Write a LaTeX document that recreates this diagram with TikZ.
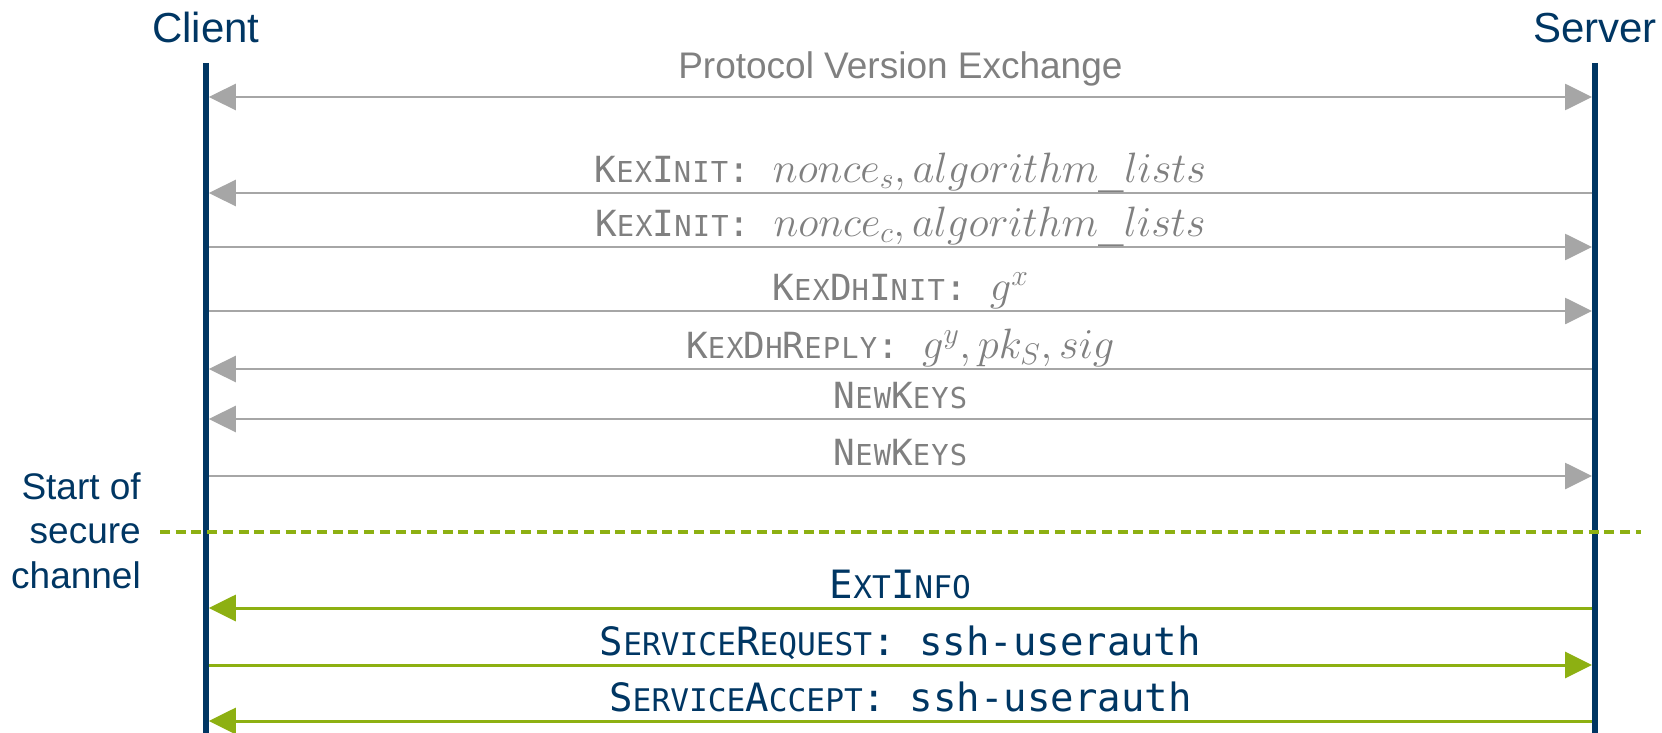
\RequirePackage{fix-cm}
\documentclass[tikz,border=0pt]{standalone}
\usepackage{fontspec}
\newfontfamily\sansfont{Liberation Sans}
\newfontfamily\monofont[LetterSpace=4]{DejaVu Sans Mono}
\newfontfamily\monotight{DejaVu Sans Mono}
\usetikzlibrary{arrows.meta}

\definecolor{navy}{RGB}{0,54,99}
\definecolor{linegray}{RGB}{166,166,166}
\definecolor{textgray}{RGB}{128,128,128}
\definecolor{lime}{RGB}{141,176,18}

% fake small capitals: upper-case letters at 4/5 of the current size
\makeatletter
\newcommand\smcp[1]{{\fontsize{\strip@pt\dimexpr\f@size pt*4/5\relax}{0pt}\selectfont\uppercase{#1}}}
\makeatother
\newcommand\mathpart[1]{{\fontsize{42.5}{42.5}\selectfont$#1$}}

\tikzset{
  actor/.style={anchor=base, inner sep=0pt, text=navy,
    font=\sansfont\fontsize{42}{42}\selectfont},
  lifeline/.style={draw=navy, line width=5.5pt},
  tipend/.style={-{Triangle[length=27pt,width=26pt]}},
  tipboth/.style={{Triangle[length=27pt,width=26pt]}-{Triangle[length=27pt,width=26pt]}},
  graymsg/.style={draw=linegray, line width=2.7pt},
  greenmsg/.style={draw=lime, line width=3pt},
  graylbl/.style={anchor=base, yshift=10.5pt, inner sep=0pt, text=textgray,
    font=\monofont\fontsize{36}{36}\selectfont},
  navylbl/.style={anchor=base, yshift=10pt, inner sep=0pt, text=navy,
    font=\monotight\fontsize{39}{39}\selectfont},
  sanslbl/.style={anchor=base, yshift=18pt, inner sep=0pt, text=textgray,
    font=\sansfont\fontsize{37}{37}\selectfont},
  boundary/.style={draw=lime, line width=4pt, dash pattern=on 10pt off 5.7pt},
  note/.style={align=right, anchor=base east, inner sep=0pt, text=navy,
    font=\sansfont\fontsize{37}{44.5}\selectfont},
}

\begin{document}
\begin{tikzpicture}[x=1pt,y=-1pt]
\useasboundingbox (0,0) rectangle (1662,733);

% participants and their lifelines
\node[actor] (client) at (206,43) {Client};
\node[actor] (server) at (1595,43) {Server};
\coordinate (ctop) at (206,63);
\coordinate (cbot) at (206,733);
\coordinate (stop) at (1595,63);
\coordinate (sbot) at (1595,733);
\draw[lifeline] (ctop) -- (cbot);
\draw[lifeline] (stop) -- (sbot);

% message end points on the lifeline edges
\foreach \n/\y in {1/97,2/193,3/247,4/311,5/369,6/419,7/476,8/608,9/665,10/721}{
  \coordinate (c\n) at (208.8,\y);
  \coordinate (s\n) at (1592,\y);
}

% unencrypted handshake
\draw[graymsg, tipboth] (c1) -- (s1)
  node[midway, sanslbl] {Protocol Version Exchange};
\draw[graymsg, tipend] (s2) -- (c2)
  node[midway, graylbl] {K\smcp{ex}I\smcp{nit}:\ \mathpart{nonce_s, algorithm\_lists}};
\draw[graymsg, tipend] (c3) -- (s3)
  node[midway, graylbl] {K\smcp{ex}I\smcp{nit}:\ \mathpart{nonce_c, algorithm\_lists}};
\draw[graymsg, tipend] (c4) -- (s4)
  node[midway, graylbl] {K\smcp{ex}D\smcp{h}I\smcp{nit}:\ \mathpart{g^x}};
\draw[graymsg, tipend] (s5) -- (c5)
  node[midway, graylbl] {K\smcp{ex}D\smcp{h}R\smcp{eply}:\ \mathpart{g^y, pk_S, sig}};
\draw[graymsg, tipend] (s6) -- (c6)
  node[midway, graylbl] {N\smcp{ew}K\smcp{eys}};
\draw[graymsg, tipend] (c7) -- (s7)
  node[midway, graylbl] {N\smcp{ew}K\smcp{eys}};

% start of the secure channel
\coordinate (dl) at (160,532);
\coordinate (dr) at (1641,532);
\draw[boundary] (dl) -- (dr);
\node[note] (secure) at (141,588) {Start of\\secure\\channel};

% encrypted messages
\draw[greenmsg, tipend] (s8) -- (c8)
  node[midway, navylbl] {E\smcp{xt}I\smcp{nfo}};
\draw[greenmsg, tipend] (c9) -- (s9)
  node[midway, navylbl] {S\smcp{ervice}R\smcp{equest}:\ ssh-userauth};
\draw[greenmsg, tipend] (s10) -- (c10)
  node[midway, navylbl] {S\smcp{ervice}A\smcp{ccept}:\ ssh-userauth};
\end{tikzpicture}
\end{document}
